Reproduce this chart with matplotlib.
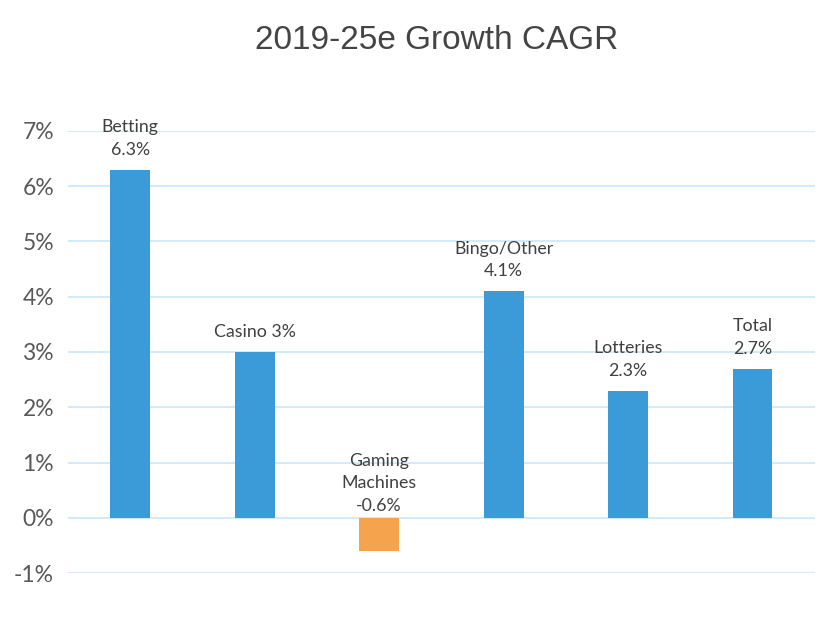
import matplotlib.pyplot as plt

categories = ["Betting", "Casino", "Gaming Machines", "Bingo/Other", "Lotteries", "Total"]
values = [6.3, 3.0, -0.6, 4.1, 2.3, 2.7]
bar_labels = ["Betting\n6.3%", "Casino 3%", "Gaming\nMachines\n-0.6%",
              "Bingo/Other\n4.1%", "Lotteries\n2.3%", "Total\n2.7%"]
y_ticks = [-1, 0, 1, 2, 3, 4, 5, 6, 7]

blue = "#3A9BD8"
orange = "#F5A34C"
colors = [orange if v < 0 else blue for v in values]

fig = plt.figure(figsize=(8.34, 6.27), dpi=100)
ax = fig.add_axes([0.0815, 0.0861, 0.8955, 0.705])

x = list(range(len(categories)))
ax.bar(x, values, width=0.32, color=colors, zorder=3)

ax.set_xlim(-0.5, len(categories) - 0.5)
ax.set_ylim(-1, 7)
ax.set_yticks(y_ticks)
ax.set_yticklabels([f"{t}%" for t in y_ticks], fontsize=16.5, color="#595959",
                   family="Lato")
ax.set_xticks([])
ax.tick_params(axis="y", length=0, pad=10)
ax.grid(axis="y", color="#CBE6F7", linewidth=1.2, zorder=0)
for s in ax.spines.values():
    s.set_visible(False)

# negative bar gets its label sitting just above the zero line
for xi, v, lab in zip(x, values, bar_labels):
    off = 8.5 if v >= 0 else 3
    ax.annotate(lab, (xi, max(v, 0)), xytext=(0, off), textcoords="offset points",
                ha="center", va="bottom", fontsize=12.8, color="#404040",
                family="Lato", linespacing=1.5, zorder=4, annotation_clip=False)

fig.text(0.524, 0.935, "2019-25e Growth CAGR", ha="center", va="center",
         fontsize=24, color="#444444", family="Liberation Sans")

fig.savefig("out.png", dpi=100)
